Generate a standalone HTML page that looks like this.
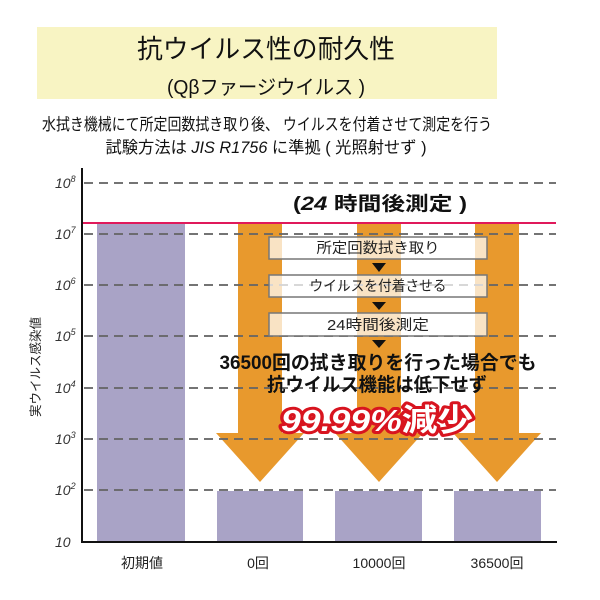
<!DOCTYPE html>
<html><head><meta charset="utf-8">
<style>
html,body{margin:0;padding:0;background:#fff;}
svg{display:block;}
text{font-family:"Liberation Sans","Noto Sans CJK JP",sans-serif;}
</style></head>
<body>
<svg width="600" height="600" viewBox="0 0 600 600" xmlns="http://www.w3.org/2000/svg">
<rect x="0" y="0" width="600" height="600" fill="#fff"/>
<!-- title box -->
<rect x="37" y="27" width="460" height="72" fill="#f8f4c3"/>
<text x="266" y="58" font-size="26" text-anchor="middle" fill="#111" textLength="258" lengthAdjust="spacingAndGlyphs">抗ウイルス性の耐久性</text>
<text x="266" y="94" font-size="20" text-anchor="middle" fill="#111" textLength="198" lengthAdjust="spacingAndGlyphs">(Qβファージウイルス )</text>
<text x="267" y="130" font-size="16.5" text-anchor="middle" fill="#111" textLength="450" lengthAdjust="spacingAndGlyphs">水拭き機械にて所定回数拭き取り後、 ウイルスを付着させて測定を行う</text>
<text x="266" y="153" font-size="16.5" text-anchor="middle" fill="#111" textLength="321" lengthAdjust="spacingAndGlyphs">試験方法は <tspan font-style="italic">JIS R1756</tspan> に準拠 ( 光照射せず )</text>

<!-- bars -->
<rect x="97" y="223" width="88" height="319" fill="#a9a3c6"/>
<rect x="217" y="491" width="86" height="51" fill="#a9a3c6"/>
<rect x="335" y="491" width="87" height="51" fill="#a9a3c6"/>
<rect x="454" y="491" width="87" height="51" fill="#a9a3c6"/>

<!-- arrows -->
<g fill="#e8992d">
<polygon points="238,223 282,223 282,433 304,433 260,482 216,433 238,433"/>
<polygon points="357,223 401,223 401,433 423,433 379,482 335,433 357,433"/>
<polygon points="475,223 519,223 519,433 541,433 497,482 453,433 475,433"/>
</g>

<!-- grid -->
<g stroke="#666" stroke-width="2" stroke-dasharray="9,6" opacity="0.9">
<line x1="84" y1="183" x2="556" y2="183"/>
<line x1="84" y1="234" x2="556" y2="234"/>
<line x1="84" y1="285" x2="556" y2="285"/>
<line x1="84" y1="336" x2="556" y2="336"/>
<line x1="84" y1="388" x2="556" y2="388"/>
<line x1="84" y1="439" x2="556" y2="439"/>
<line x1="84" y1="490" x2="556" y2="490"/>
</g>

<!-- red line -->
<line x1="83" y1="223" x2="556" y2="223" stroke="#e0195b" stroke-width="2"/>

<!-- axes -->
<line x1="82" y1="168" x2="82" y2="543" stroke="#111" stroke-width="2"/>
<line x1="81" y1="542" x2="557" y2="542" stroke="#111" stroke-width="2"/>

<!-- y tick labels -->
<g font-size="14" font-style="italic" fill="#333">
<text x="55" y="188">10<tspan font-size="9" dy="-6">8</tspan></text>
<text x="55" y="239">10<tspan font-size="9" dy="-6">7</tspan></text>
<text x="55" y="290">10<tspan font-size="9" dy="-6">6</tspan></text>
<text x="55" y="341">10<tspan font-size="9" dy="-6">5</tspan></text>
<text x="55" y="393">10<tspan font-size="9" dy="-6">4</tspan></text>
<text x="55" y="444">10<tspan font-size="9" dy="-6">3</tspan></text>
<text x="55" y="495">10<tspan font-size="9" dy="-6">2</tspan></text>
<text x="55" y="547">10</text>
</g>
<text transform="translate(40,367) rotate(-90)" font-size="12.5" text-anchor="middle" fill="#222" textLength="100" lengthAdjust="spacingAndGlyphs">実ウイルス感染値</text>

<!-- x labels -->
<g font-size="14" fill="#222" text-anchor="middle">
<text x="142" y="568">初期値</text>
<text x="258" y="568">0回</text>
<text x="379" y="568">10000回</text>
<text x="497" y="568">36500回</text>
</g>

<!-- header -->
<text x="380" y="210" font-size="19" font-weight="bold" text-anchor="middle" fill="#111" textLength="174" lengthAdjust="spacingAndGlyphs">(<tspan font-style="italic">24</tspan> 時間後測定 )</text>

<!-- process boxes -->
<g fill="#ffffff" fill-opacity="0.72" stroke="#777" stroke-width="1.5">
<rect x="269" y="237" width="218" height="22"/>
<rect x="269" y="275" width="218" height="22"/>
<rect x="269" y="313" width="218" height="23"/>
</g>
<g font-size="14.5" fill="#222" text-anchor="middle">
<text x="378" y="253" textLength="123" lengthAdjust="spacingAndGlyphs">所定回数拭き取り</text>
<text x="378" y="291" textLength="137" lengthAdjust="spacingAndGlyphs">ウイルスを付着させる</text>
<text x="378" y="330" textLength="102" lengthAdjust="spacingAndGlyphs">24時間後測定</text>
</g>
<g fill="#111">
<polygon points="372,263 386,263 379,272"/>
<polygon points="372,302 386,302 379,310"/>
<polygon points="372,340 386,340 379,348"/>
</g>

<!-- messages -->
<text x="378" y="369" font-size="19" font-weight="bold" text-anchor="middle" fill="#111" textLength="317" lengthAdjust="spacingAndGlyphs">36500回の拭き取りを行った場合でも</text>
<text x="377" y="391" font-size="19" font-weight="bold" text-anchor="middle" fill="#111" textLength="220" lengthAdjust="spacingAndGlyphs">抗ウイルス機能は低下せず</text>
<text x="377" y="431" font-size="31" font-weight="bold" text-anchor="middle" fill="#fff" stroke="#d8141f" stroke-width="6" stroke-linejoin="round" paint-order="stroke" textLength="192" lengthAdjust="spacingAndGlyphs"><tspan font-style="italic">99.99%</tspan>減少</text>
</svg>
</body></html>
